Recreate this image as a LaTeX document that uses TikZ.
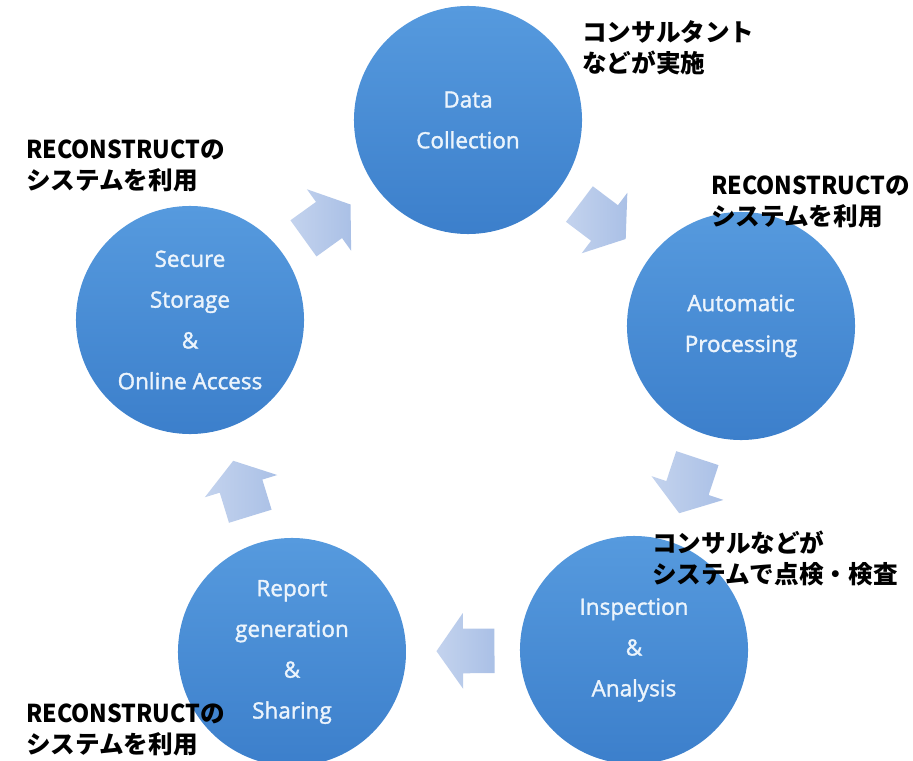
\documentclass[tikz,border=0pt]{standalone}
\usepackage{fontspec}
\setmainfont{Open Sans}
\newfontfamily\stagefont[FakeBold=1.6]{Open Sans}
\newfontfamily\jpfont{Noto Sans CJK JP}
\usetikzlibrary{positioning,shapes.arrows,calc}

\definecolor{stagetop}{RGB}{86,154,222}
\definecolor{stagebot}{RGB}{60,127,203}
\definecolor{stagetext}{RGB}{236,244,252}
\definecolor{flowblue}{RGB}{170,192,230}

\newcommand\recon{\scalebox{0.94}[1]{RECONSTRUCT}}

\begin{document}
\begin{tikzpicture}[x=0.025cm,y=-0.025cm,
    stage/.style={circle,minimum size=5.7cm,inner sep=0pt,top color=stagetop,bottom color=stagebot,
      text=stagetext,align=center,font=\stagefont\fontsize{16}{29}\selectfont},
    flow/.style={single arrow,draw=none,left color=flowblue!70!white,right color=flowblue,
      minimum height=1.45cm,inner xsep=0pt,inner ysep=0.55cm,
      single arrow head extend=0.39cm,single arrow tip angle=110},
    note/.style={anchor=north west,inner sep=0pt,align=left,text=black,
      font=\jpfont\bfseries\fontsize{17.5}{22}\selectfont}]
    \useasboundingbox (0,0) rectangle (913,761);

    % stages
    \node[stage] (data) at (468,120) {Data\\Collection};
    \node[stage] (auto) at (741,326) {Automatic\\Processing};
    \node[stage] (insp) at (634,650) {Inspection\\\&\\Analysis};
    \node[stage] (rep) at (292,652) {Report\\generation\\\&\\Sharing};
    \node[stage] (store) at (190,320) {Secure\\Storage\\\&\\Online Access};

    % block arrows between stages
    \foreach \a/\b/\fname in {store/data/f1,data/auto/f2,auto/insp/f3,insp/rep/f4,rep/store/f5}
        \path let \p1=($(\b)-(\a)$), \n1={atan2(\y1,\x1)} in
            node[flow,rotate=\n1] (\fname) at ($(\a)!0.47!(\b)$) {};

    % notes
    \node[note] (n1) at (582,20) {コンサルタント\\などが実施};
    \node[note] (n2) at (26,140) {\recon の\\システムを利用};
    \node[note] (n3) at (711,176) {\recon の\\システムを利用};
    \node[note] (n4) at (652,531) {コンサルなどが\\システムで点検・検査};
    \node[note] (n5) at (26,704) {\recon の\\システムを利用};
\end{tikzpicture}
\end{document}
